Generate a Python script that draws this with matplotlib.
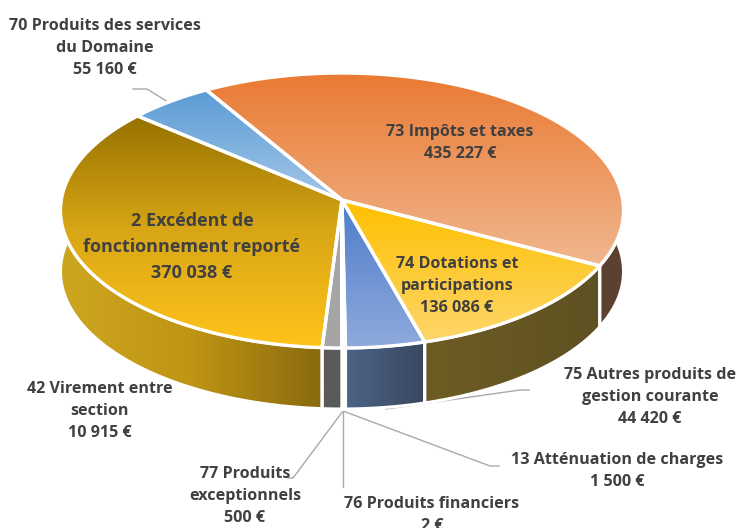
import matplotlib
matplotlib.use('Agg')
import matplotlib.pyplot as plt
import numpy as np
from matplotlib.colors import LinearSegmentedColormap
from matplotlib.patches import Polygon

# slices, clockwise from the start angle
names = ['73 Impôts et taxes', '74 Dotations et\nparticipations',
         '75 Autres produits de\ngestion courante', '13 Atténuation de charges',
         '76 Produits financiers', '77 Produits\nexceptionnels',
         '42 Virement entre\nsection', '2 Excédent de\nfonctionnement reporté',
         '70 Produits des services\ndu Domaine']
values = [435227, 136086, 44420, 1500, 2, 500, 10915, 370038, 55160]

top_colors = [('#E97A33', '#F1B78F'), ('#FFC000', '#FDD66A'), ('#4E7CCB', '#8FAADC'),
              ('#FFFFFF', '#FFFFFF'), ('#FFFFFF', '#FFFFFF'), ('#FFFFFF', '#FFFFFF'),
              ('#A5A5A5', '#A5A5A5'), ('#977200', '#D9A716', '#FFC31A'), ('#5B9BD5', '#A3C7E8')]
side_colors = [('#6B4A36', '#5C4030'), ('#6E5C24', '#5E5122'), ('#4D6386', '#39475F'),
               ('#FFFFFF', '#FFFFFF'), ('#FFFFFF', '#FFFFFF'), ('#FFFFFF', '#FFFFFF'),
               ('#5A5A5A', '#5A5A5A'), ('#CDA61F', '#BF9514', '#8A6A0E'), ('#5B9BD5', '#5B9BD5')]

label_pos = [(460, 143), (457, 286), (650, 397), (617, 471), (432, 515), (245, 496),
             (100, 411), (192, 247), (105, 48)]
label_size = [11.6, 11.6, 11.6, 11.6, 11.6, 11.6, 11.6, 13, 11.6]

leaders = [[(386, 409), (520, 390), (529, 390)],
           [(343, 411), (490, 466), (499, 466)],
           [(343, 411), (343, 487)],
           [(343, 411), (293, 478), (288, 478)],
           [(133, 89), (147, 89), (168, 102)]]

start_angle = -31
cx, cy = 342, 200
rx, ry, k = 280.7, 136.7, 0.0764
depth = 61

def rim(a):
    a = np.radians(a)
    u, v = np.sin(a), np.cos(a)
    return cx + rx * u / (1 + k * v), cy - ry * v / (1 + k * v)

def grad_fill(ax, pts, colors, z, horizontal=False, lw=2):
    x0, y0 = pts.min(axis=0)
    x1, y1 = pts.max(axis=0)
    g = np.linspace(0, 1, 256)
    g = g.reshape(1, -1) if horizontal else g.reshape(-1, 1)
    cmap = LinearSegmentedColormap.from_list('g', colors)
    im = ax.imshow(g, cmap=cmap, vmin=0, vmax=1, extent=[x0, x1, y1, y0],
                   aspect='auto', origin='upper', zorder=z)
    im.set_clip_path(Polygon(pts, transform=ax.transData))
    ax.add_patch(Polygon(pts, fc='none', ec='white', lw=lw, joinstyle='round', zorder=z + 0.5))

fig = plt.figure(figsize=(7.37, 5.28), dpi=100)
ax = fig.add_axes([0, 0, 1, 1])
plt.rcParams['font.family'] = ['Open Sans', 'DejaVu Sans']

edges = start_angle + np.cumsum([0] + values) / sum(values) * 360
for i in range(len(values)):
    arc = np.linspace(edges[i], edges[i + 1], 120)
    x, y = rim(arc)
    side = np.vstack([np.c_[x, y], np.c_[x, y + depth][::-1]])
    grad_fill(ax, side, side_colors[i], 2, horizontal=True, lw=2.2)

for i in range(len(values)):
    arc = np.linspace(edges[i], edges[i + 1], 120)
    x, y = rim(arc)
    face = np.vstack([[cx, cy], np.c_[x, y]])
    grad_fill(ax, face, top_colors[i], 4, lw=2.4)

for pts in leaders:
    p = np.array(pts)
    ax.plot(p[:, 0], p[:, 1], color='#A9A9A9', lw=1, zorder=1)

for name, v, pos, fs in zip(names, values, label_pos, label_size):
    txt = name + '\n' + f'{v:,}'.replace(',', ' ') + ' €'
    ax.text(pos[0], pos[1], txt, ha='center', va='center', fontsize=fs, color='#404040',
            fontweight='bold', linespacing=1.5 if fs < 12 else 1.55, zorder=6)

ax.set_xlim(0, 737)
ax.set_ylim(528, 0)
ax.axis('off')
fig.savefig('out.png', dpi=100)
